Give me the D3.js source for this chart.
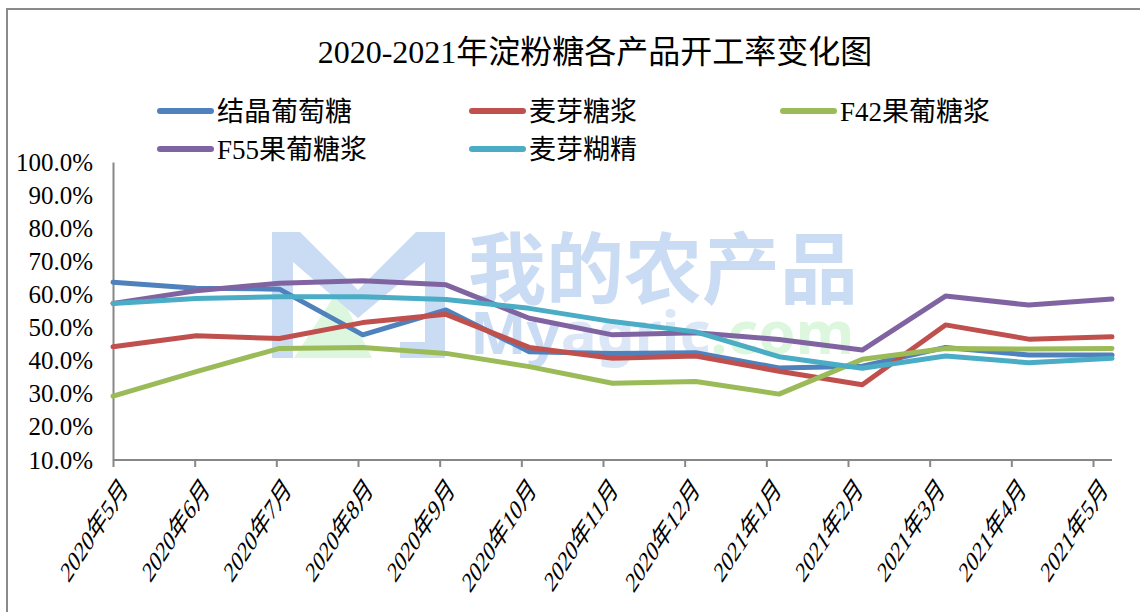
<!DOCTYPE html>
<meta charset="utf-8">
<head>
  <title>2020-2021年淀粉糖各产品开工率变化图</title>
  <style>
    body { margin: 0; background: #fff; }
    svg { display: block; background: #fff; }
    .title { font: 32px "Liberation Serif", "Noto Sans CJK SC"; fill: #000; }
    .legend text { font: 27px "Liberation Serif", "Noto Sans CJK SC"; fill: #000; }
    .yaxis text { font: 25px "Liberation Serif"; fill: #000; }
    .xaxis text { font: 19px "Liberation Serif", "Noto Sans CJK SC"; fill: #000; }
    .domain, .tick line { stroke: #878787; stroke-width: 2; }
    .series { fill: none; stroke-width: 5; stroke-linejoin: round; stroke-linecap: round; }
  </style>
</head>
<body>
<script src="https://d3js.org/d3.v7.min.js"></script>
<script>

// categories
var months = ["2020年5月", "2020年6月", "2020年7月", "2020年8月", "2020年9月", "2020年10月",
              "2020年11月", "2020年12月", "2021年1月", "2021年2月", "2021年3月", "2021年4月", "2021年5月"];

// series values (%)
var crystalGlucose = [63.7, 61.9, 61.6, 47.8, 55.3, 42.7, 42.2, 42.4, 37.8, 38.3, 44.0, 41.7, 41.7];
var maltoseSyrup   = [44.2, 47.5, 46.7, 51.5, 54.0, 44.0, 40.7, 41.4, 36.8, 32.7, 50.8, 46.5, 47.2];
var f42Syrup       = [29.3, 36.7, 43.7, 44.0, 42.2, 38.2, 33.2, 33.7, 29.9, 40.4, 43.7, 43.5, 43.7];
var f55Syrup       = [57.3, 61.1, 63.4, 64.1, 62.9, 52.8, 47.8, 48.4, 46.4, 43.2, 59.5, 56.8, 58.6];
var maltodextrin   = [57.3, 58.8, 59.3, 59.3, 58.5, 55.8, 51.8, 48.7, 41.2, 37.7, 41.4, 39.4, 40.7];

var seriesNames  = ["结晶葡萄糖", "麦芽糖浆", "F42果葡糖浆", "F55果葡糖浆", "麦芽糊精"];
var seriesColors = ["#4f81bd", "#c0504d", "#9bbb59", "#8064a2", "#4bacc6"];
var seriesValues = [crystalGlucose, maltoseSyrup, f42Syrup, f55Syrup, maltodextrin];

var yTicks = [10, 20, 30, 40, 50, 60, 70, 80, 90, 100];

var W = 1140, H = 612;
var plot = {left: 113, right: 1112, top: 162, bottom: 460};

var svg = d3.select("body").append("svg")
    .attr("width", W)
    .attr("height", H);

// outer frame (cut by the picture on right and bottom)
svg.append("path")
    .attr("d", "M7," + (H + 5) + "V9H" + (W + 5))
    .attr("fill", "none")
    .attr("stroke", "#8a8a8a")
    .attr("stroke-width", 2);

// scales
var x = d3.scalePoint().domain(months).range([plot.left, plot.right]);
var xTick = d3.scalePoint().domain(months).range([plot.left, 1093]);
var y = d3.scaleLinear().domain([10, 100]).range([plot.bottom, plot.top]);

// watermark
var wm = svg.append("g").attr("class", "watermark");
wm.append("path")
    .attr("d", "M294,358 L372,358 L338,290 Z")
    .attr("fill", "#dcf7de");
wm.append("path")
    .attr("d", "M272,232 H300 L358,290 L416,232 H445 V358 H400 V342 H425 V262 L358,318 L293,262 V358 H272 Z")
    .attr("fill", "#cadcf4");
wm.append("text")
    .attr("x", 468).attr("y", 298)
    .style("font", "bold 78px 'Noto Sans CJK SC'")
    .attr("fill", "#cadcf4")
    .text("我的农产品");
var wmt = wm.append("text")
    .attr("x", 470).attr("y", 354)
    .style("font", "bold 60px 'Noto Sans'");
wmt.append("tspan").attr("fill", "#cadcf4").text("My");
wmt.append("tspan").attr("fill", "#dbe7f7").text("agric");
wmt.append("tspan").attr("fill", "#dcf7de").text(".com");

// title
svg.append("text")
    .attr("class", "title")
    .attr("x", 595)
    .attr("y", 63)
    .attr("text-anchor", "middle")
    .text("2020-2021年淀粉糖各产品开工率变化图");

// legend
var legendX = [158, 470, 781], legendY = [111, 149];
var legend = svg.append("g").attr("class", "legend")
  .selectAll("g")
  .data(seriesNames)
  .enter().append("g")
    .attr("transform", function(d, i) {
      return "translate(" + legendX[i % 3] + "," + legendY[Math.floor(i / 3)] + ")";
    });
legend.append("line")
    .attr("x1", 2).attr("x2", 53)
    .attr("stroke", function(d, i) { return seriesColors[i]; })
    .attr("stroke-width", 6)
    .attr("stroke-linecap", "round");
legend.append("text")
    .attr("x", 59)
    .attr("dy", "0.36em")
    .text(function(d) { return d; });

// y axis
svg.append("g")
    .attr("class", "yaxis")
    .attr("transform", "translate(" + plot.left + ",0)")
    .call(d3.axisLeft(y).tickValues(yTicks).tickSize(0).tickPadding(20)
      .tickFormat(function(d) { return d.toFixed(1) + "%"; }));

// x axis
var xg = svg.append("g")
    .attr("class", "xaxis")
    .attr("transform", "translate(0," + plot.bottom + ")")
    .call(d3.axisBottom(xTick).tickSize(7).tickSizeOuter(0));
xg.select(".domain").attr("d", "M" + plot.left + ",0H" + plot.right);
xg.selectAll(".tick text")
    .attr("x", 0).attr("y", 0)
    .attr("dy", "0.85em")
    .attr("text-anchor", "end")
    .attr("transform", "translate(4,13) scale(1,1.54) rotate(-45)");

// lines
var line = d3.line()
    .x(function(d, i) { return x(months[i]); })
    .y(function(d) { return y(d); });

svg.selectAll(".series")
    .data(seriesValues)
  .enter().append("path")
    .attr("class", "series")
    .attr("stroke", function(d, i) { return seriesColors[i]; })
    .attr("d", line);

</script>
</body>
